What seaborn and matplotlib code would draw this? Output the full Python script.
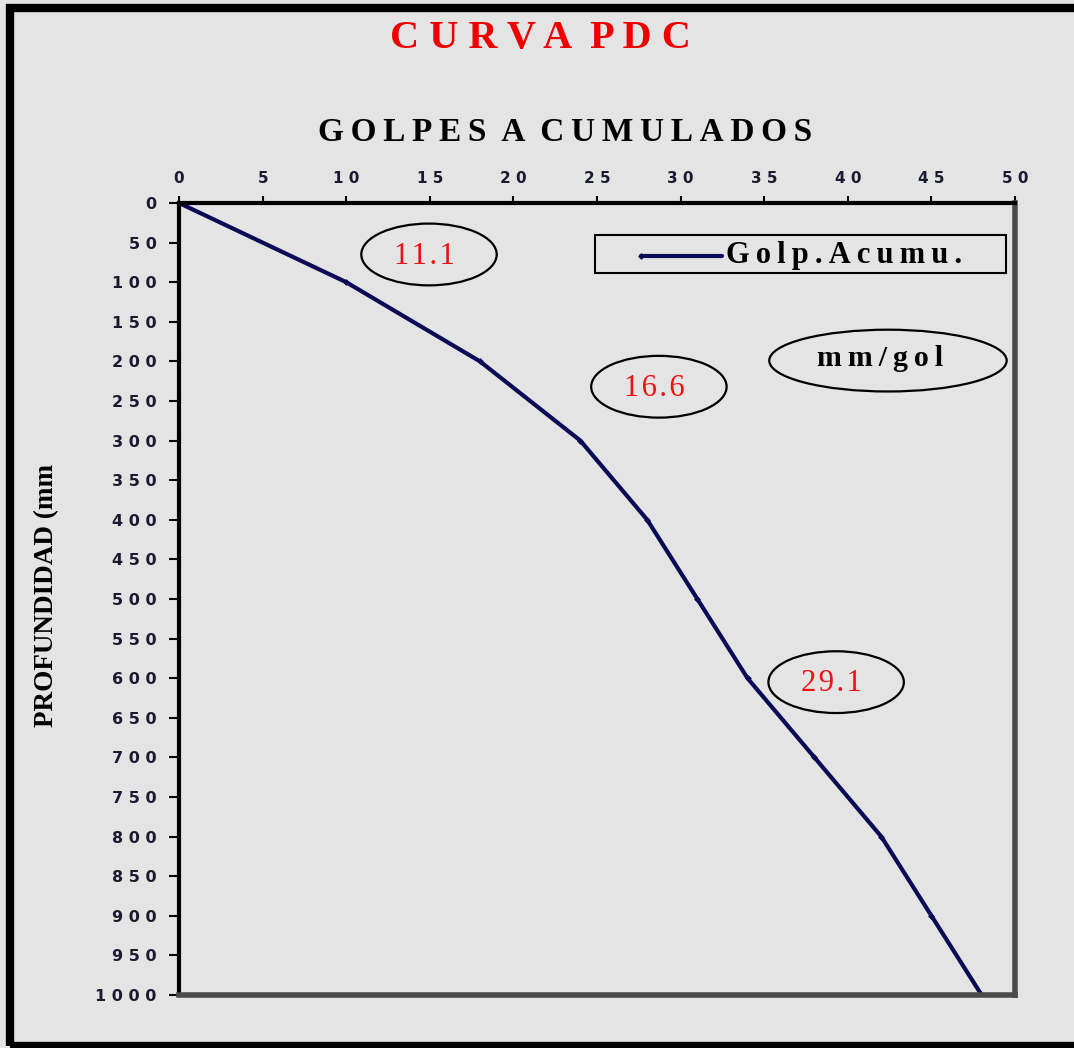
import matplotlib
matplotlib.use("Agg")
import matplotlib.pyplot as plt
from matplotlib.patches import Ellipse, Rectangle
from matplotlib.lines import Line2D
import seaborn as sns
import pandas as pd

# Cumulative blows vs depth (DCP test)
profundidad = [0, 100, 200, 300, 400, 500, 600, 700, 800, 900, 1000]
golpes = [0, 10, 18, 24, 28, 31, 34, 38, 42, 45, 48]
x_ticks = [0, 5, 10, 15, 20, 25, 30, 35, 40, 45, 50]
y_ticks = list(range(0, 1001, 50))

# Penetration-rate callouts (mm/golpe)
tasas = ["11.1", "16.6", "29.1"]
tasa_pos = [(14.95, 65), (28.7, 232), (39.3, 605)]

sns.set_theme(style="white")
plt.rcParams["font.family"] = ["Liberation Serif", "DejaVu Serif"]

bg = "#e4e4e4"
navy = "#0b0b55"
df = pd.DataFrame({"Golp.Acumu.": golpes, "Profundidad": profundidad})

THIN = "\u2009"
HAIR = "\u200a"


def spread(s, sep=THIN):
    return sep.join(s)


fig = plt.figure(figsize=(10.74, 10.48), dpi=100, facecolor=bg)
ax = fig.add_axes([0.1667, 0.0506, 0.7784, 0.7557])
ax.set_facecolor(bg)

sns.lineplot(data=df, x="Golp.Acumu.", y="Profundidad", ax=ax, color=navy,
             linewidth=3.0, marker="D", markersize=3.5, markeredgewidth=0,
             estimator=None, sort=False, legend=False)

ax.set_xlim(0, 50)
ax.set_ylim(1000, 0)
ax.xaxis.tick_top()
ax.set_xticks(x_ticks)
ax.set_yticks(y_ticks)
spaced = lambda v: " ".join(str(v))
ax.set_xticklabels([spaced(v) for v in x_ticks], fontfamily="DejaVu Sans",
                   fontweight="bold", fontsize=11, color="#1a1a30")
ax.set_yticklabels([spaced(v) for v in y_ticks], fontfamily="DejaVu Sans",
                   fontweight="bold", fontsize=11.5, color="#1a1a30")
ax.tick_params(axis="x", which="both", top=True, bottom=False, direction="out",
               length=5, width=1.5, color="black", pad=7)
ax.tick_params(axis="y", which="both", left=True, direction="out",
               length=7, width=1.5, color="black", pad=9)
ax.set_xlabel("")
ax.set_ylabel("")

for side in ["top", "left"]:
    ax.spines[side].set_color("black")
    ax.spines[side].set_linewidth(3)
for side in ["right", "bottom"]:
    ax.spines[side].set_color("#4a4a4a")
    ax.spines[side].set_linewidth(4)
for s in ax.spines.values():
    s.set_visible(True)

# Callout ellipses with rate values
for txt, (cx, cy) in zip(tasas, tasa_pos):
    ax.add_patch(Ellipse((cx, cy), width=8.1, height=78, fill=False,
                         edgecolor="black", linewidth=1.6, zorder=4))
    ax.text(cx - 0.3, cy + 2, spread(txt, HAIR), color="#ee1111", fontsize=22,
            ha="center", va="center", zorder=5)

ax.add_patch(Ellipse((42.4, 199), width=14.2, height=78, fill=False,
                     edgecolor="black", linewidth=1.6, zorder=4, clip_on=False))
ax.text(41.9, 196, spread("mm/gol"), color="black", fontsize=21.5,
        fontweight="bold", ha="center", va="center", zorder=5)

# Legend box
ax.add_patch(Rectangle((24.85, 40), 24.6, 48, fill=False, edgecolor="black",
                       linewidth=1.5, zorder=4))
ax.add_line(Line2D([27.6, 32.5], [67, 67], color=navy, linewidth=3, zorder=5,
                   marker="D", markersize=3.5, markevery=[0], markeredgewidth=0))
ax.text(32.7, 66, spread("Golp.Acumu."), color="black", fontsize=22,
        fontweight="bold", ha="left", va="center", zorder=5)

# Titles
fig.text(0.503, 0.963, spread("CURVA", " ") + "  " + spread("PDC", " "),
         color="#ee0000", fontsize=29, fontweight="bold",
         ha="center", va="center")
fig.text(0.526, 0.874, spread("GOLPES", THIN) + "  A  " + spread("CUMULADOS", THIN),
         color="black", fontsize=24, fontweight="bold",
         ha="center", va="center")
fig.text(0.043, 0.432, "PROFUNDIDAD (mm", color="black", fontsize=19.5,
         fontweight="bold", rotation=90, ha="center", va="center")

# Outer frame
fig.patches.append(Rectangle((0.0095, 0.002), 1.2, 0.99, fill=False,
                             edgecolor="black", linewidth=6,
                             transform=fig.transFigure, figure=fig))

fig.savefig("out.png", dpi=100, facecolor=bg)
